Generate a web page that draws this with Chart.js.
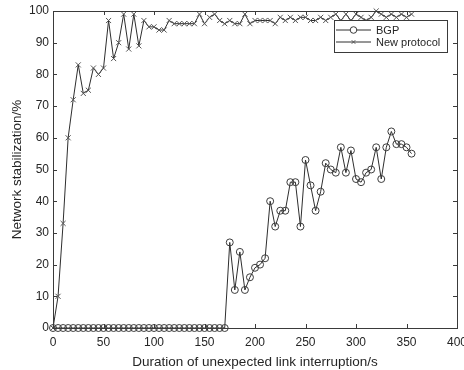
<!DOCTYPE html>
<html>
<head>
<meta charset="utf-8">
<title>Network stabilization</title>
<script src="https://cdn.jsdelivr.net/npm/chart.js@4.4.0/dist/chart.umd.min.js"></script>
<style>
  html, body { margin: 0; padding: 0; background: #fff; }
</style>
</head>
<body>
<canvas id="myChart" width="464" height="370"></canvas>
<script>
// Duration of unexpected link interruption (s)
const durations = [
  0, 5, 10, 15, 20, 25, 30, 35, 40, 45, 50, 55, 60, 65, 70, 75, 80, 85,
  90, 95, 100, 105, 110, 115, 120, 125, 130, 135, 140, 145, 150, 155, 160, 165,
  170, 175, 180, 185, 190, 195, 200, 205, 210, 215, 220, 225, 230, 235, 240, 245,
  250, 255, 260, 265, 270, 275, 280, 285, 290, 295, 300, 305, 310, 315, 320, 325,
  330, 335, 340, 345, 350, 355
];

// Network stabilization (%)
const bgpValues = [
  0, 0, 0, 0, 0, 0, 0, 0, 0, 0, 0, 0, 0, 0, 0, 0, 0, 0,
  0, 0, 0, 0, 0, 0, 0, 0, 0, 0, 0, 0, 0, 0, 0, 0,
  0, 27, 12, 24, 12, 16, 19, 20, 22, 40, 32, 37, 37, 46, 46, 32,
  53, 45, 37, 43, 52, 50, 49, 57, 49, 56, 47, 46, 49, 50, 57, 47,
  57, 62, 58, 58, 57, 55
];

const newProtocolValues = [
  0, 10, 33, 60, 72, 83, 74, 75, 82, 80, 82, 97, 85, 90, 99, 88, 99, 89,
  97, 95, 95, 94, 94, 97, 96, 96, 96, 96, 96, 99, 96, 98, 99, 97,
  96, 97, 96, 96, 99, 96, 97, 97, 97, 97, 96, 98, 97, 98, 97, 98,
  98, 97, 97, 98, 97, 98, 99, 97, 99, 97, 99, 98, 97, 98, 100, 99,
  98, 99, 98, 99, 98, 99
];

const xTicks = [0, 50, 100, 150, 200, 250, 300, 350, 400];
const yTicks = [0, 10, 20, 30, 40, 50, 60, 70, 80, 90, 100];

const seriesNames = ["BGP", "New protocol"];

const toPoints = (vals) => vals.map((v, i) => ({ x: durations[i], y: v }));

const textColor = "#262626";
const axisColor = "#3a3a3a";
const fontFamily = '"Liberation Sans", Arial, Helvetica, sans-serif';

// box around the plot + inward ticks on all four sides (matlab look)
const boxPlugin = {
  id: "boxPlugin",
  afterDraw(chart) {
    const { ctx, chartArea: a, scales } = chart;
    ctx.save();
    ctx.strokeStyle = axisColor;
    ctx.lineWidth = 1;
    ctx.strokeRect(Math.round(a.left) + 0.5, Math.round(a.top) + 0.5,
      Math.round(a.right - a.left), Math.round(a.bottom - a.top));
    ctx.beginPath();
    scales.x.ticks.forEach((t) => {
      const px = Math.round(scales.x.getPixelForValue(t.value)) + 0.5;
      ctx.moveTo(px, a.bottom); ctx.lineTo(px, a.bottom - 4);
      ctx.moveTo(px, a.top); ctx.lineTo(px, a.top + 4);
    });
    scales.y.ticks.forEach((t) => {
      const py = Math.round(scales.y.getPixelForValue(t.value)) + 0.5;
      ctx.moveTo(a.left, py); ctx.lineTo(a.left + 4, py);
      ctx.moveTo(a.right, py); ctx.lineTo(a.right - 4, py);
    });
    ctx.stroke();
    ctx.restore();
  },
};

// legend box in the top-right corner, line + marker like the plot
const legendPlugin = {
  id: "legendPlugin",
  afterDatasetsDraw(chart) {
    const { ctx, chartArea: a } = chart;
    const left = a.right - 123;
    const top = a.top + 9;
    const w = 113, h = 32;
    ctx.save();
    ctx.fillStyle = "#fff";
    ctx.fillRect(left, top, w, h);
    ctx.strokeStyle = axisColor;
    ctx.lineWidth = 1;
    ctx.strokeRect(Math.round(left) + 0.5, Math.round(top) + 0.5, w, h);
    chart.data.datasets.forEach((ds, i) => {
      const y = top + 10 + i * 12;
      ctx.strokeStyle = ds.borderColor;
      ctx.lineWidth = 1;
      ctx.beginPath();
      ctx.moveTo(left + 2, y);
      ctx.lineTo(left + 37, y);
      ctx.stroke();
      ctx.strokeStyle = ds.pointBorderColor;
      Chart.helpers.drawPoint(ctx, {
        pointStyle: ds.pointStyle,
        radius: ds.pointStyle === "circle" ? 3.3 : 2.5,
        borderWidth: 1,
        rotation: 0,
      }, left + 19.5, y);
      ctx.fillStyle = textColor;
      ctx.font = "11px " + fontFamily;
      ctx.textBaseline = "middle";
      ctx.textAlign = "left";
      ctx.fillText(ds.label, left + 42, y + 0.5);
    });
    ctx.restore();
  },
};

const newChart = new Chart(document.getElementById("myChart"), {
  type: "line",
  data: {
    datasets: [
      {
        label: seriesNames[0],
        data: toPoints(bgpValues),
        borderColor: "#2e2e2e",
        borderWidth: 1,
        pointStyle: "circle",
        pointRadius: 3.5,
        pointBorderWidth: 1,
        pointBorderColor: "#3c3c3c",
        pointBackgroundColor: "rgba(0,0,0,0)",
        tension: 0,
        fill: false,
        clip: false,
      },
      {
        label: seriesNames[1],
        data: toPoints(newProtocolValues),
        borderColor: "#2e2e2e",
        borderWidth: 1,
        pointStyle: "crossRot",
        pointRadius: 3.6,
        pointBorderWidth: 1,
        pointBorderColor: "#555555",
        tension: 0,
        fill: false,
        clip: false,
      },
    ],
  },
  options: {
    responsive: false,
    animation: false,
    devicePixelRatio: 1,
    layout: { padding: { left: 0, right: 7, top: 11, bottom: 0 } },
    plugins: { legend: { display: false }, tooltip: { enabled: false } },
    scales: {
      x: {
        type: "linear",
        min: 0,
        max: 400,
        afterBuildTicks: (s) => { s.ticks = xTicks.map((v) => ({ value: v })); },
        ticks: { color: textColor, font: { family: fontFamily, size: 12 }, padding: 7, maxRotation: 0 },
        grid: { display: false, drawTicks: false },
        border: { display: false },
        title: {
          display: true,
          text: "Duration of unexpected link interruption/s",
          color: textColor,
          font: { family: fontFamily, size: 13.5 },
          padding: { top: 0, bottom: 0 },
        },
        afterFit: (s) => { s.height = 42; s.paddingLeft = 0; s.paddingRight = 0; },
      },
      y: {
        min: 0,
        max: 100,
        afterBuildTicks: (s) => { s.ticks = yTicks.map((v) => ({ value: v })); },
        ticks: { color: textColor, font: { family: fontFamily, size: 12 }, padding: 4 },
        grid: { display: false, drawTicks: false },
        border: { display: false },
        title: {
          display: true,
          text: "Network stabilization/%",
          color: textColor,
          font: { family: fontFamily, size: 13.5 },
          padding: { top: 9, bottom: 0 },
        },
        afterFit: (s) => { s.width = 53; s.paddingTop = 0; s.paddingBottom = 0; },
      },
    },
  },
  plugins: [boxPlugin, legendPlugin],
});
</script>
</body>
</html>
